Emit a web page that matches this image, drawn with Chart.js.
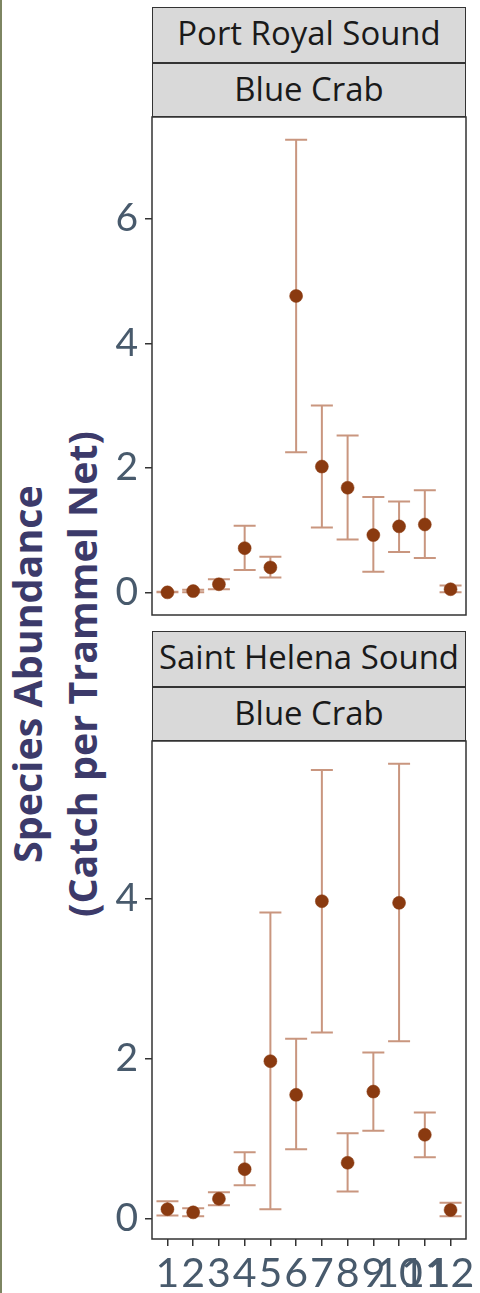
<!DOCTYPE html>
<html>
<head>
<meta charset="utf-8">
<script src="https://cdn.jsdelivr.net/npm/chart.js@4/dist/chart.umd.min.js"></script>
<style>
  html, body { margin: 0; padding: 0; background: #ffffff; }
  #page { position: relative; width: 480px; height: 1293px; background: #ffffff; overflow: hidden; }
  #edge { position: absolute; left: 0; top: 0; width: 2px; height: 1293px; background: #7d8562; }
  canvas { position: absolute; left: 0; }
  .strip { position: absolute; left: 152px; width: 314px; box-sizing: border-box;
           border: 1.5px solid #333333; background: #d9d9d9; }
  .strip div { box-sizing: border-box; text-align: center; font-family: 'Open Sans', sans-serif;
               font-size: 30px; color: #1a1a1a; white-space: nowrap; }
  .strip div + div { border-top: 2px solid #333333; }
  #ytitle { position: absolute; width: 520px; height: 110px; left: -205px; top: 619px;
            transform: rotate(-90deg); transform-origin: 50% 50%;
            font-family: 'Open Sans', sans-serif; font-weight: bold; font-size: 36px;
            color: #3c3a6a; text-align: center; line-height: 55px; white-space: nowrap; }
</style>
</head>
<body>
<div id="page">
  <div id="edge"></div>
  <div class="strip" style="top:7px;height:110px;">
    <div class="lab" style="height:54px;line-height:50px;">Port Royal Sound</div>
    <div class="lab" style="height:54px;line-height:50px;">Blue Crab</div>
  </div>
  <div class="strip" style="top:631px;height:110px;">
    <div class="lab" style="height:54px;line-height:50px;">Saint Helena Sound</div>
    <div class="lab" style="height:54px;line-height:50px;">Blue Crab</div>
  </div>
  <div id="ytitle"><div>Species Abundance</div><div>(Catch per Trammel Net)</div></div>
  <canvas id="top" width="480" height="540" style="top:100px;width:480px;height:540px;"></canvas>
  <canvas id="bottom" width="480" height="568" style="top:725px;width:480px;height:568px;"></canvas>
</div>
<script>
// Months sampled
const months = ['1', '2', '3', '4', '5', '6', '7', '8', '9', '10', '11', '12'];

// Port Royal Sound, blue crab: mean catch per trammel net and interval bounds
const prsMean = [0.00, 0.02, 0.13, 0.71, 0.40, 4.76, 2.02, 1.68, 0.92, 1.06, 1.09, 0.05];
const prsLow  = [0.00, 0.00, 0.05, 0.36, 0.24, 2.25, 1.04, 0.85, 0.33, 0.65, 0.55, 0.00];
const prsHigh = [0.01, 0.04, 0.21, 1.07, 0.57, 7.27, 3.00, 2.52, 1.53, 1.46, 1.64, 0.11];

// Saint Helena Sound, blue crab
const shsMean = [0.12, 0.08, 0.25, 0.62, 1.97, 1.55, 3.97, 0.70, 1.59, 3.95, 1.05, 0.11];
const shsLow  = [0.04, 0.03, 0.17, 0.42, 0.12, 0.87, 2.33, 0.34, 1.10, 2.22, 0.77, 0.03];
const shsHigh = [0.22, 0.13, 0.33, 0.83, 3.83, 2.25, 5.61, 1.07, 2.08, 5.69, 1.33, 0.20];

// Axis tick values
const prsTicks = [0, 2, 4, 6];
const shsTicks = [0, 2, 4];

const POINT_COLOR = '#8a3a10';
const BAR_COLOR = '#c9967f';
const TICK_COLOR = '#485a6c';
const FRAME_COLOR = '#333333';

// Size a text element's font so its rendered width hits a given width
function fitWidth(el, text, weight, family, width) {
  const c = document.createElement('canvas').getContext('2d');
  c.font = `${weight} 100px ${family}`;
  const size = 100 * width / c.measureText(text).width;
  el.style.fontSize = size.toFixed(2) + 'px';
  return size;
}
const labs = document.querySelectorAll('.strip .lab');
const stripSize = fitWidth(labs[2], 'Saint Helena Sound', 'normal', "'Open Sans'", 300);
labs.forEach(el => el.style.fontSize = stripSize.toFixed(2) + 'px');
const titleLines = document.querySelectorAll('#ytitle div');
const titleSize = fitWidth(titleLines[1], '(Catch per Trammel Net)', 'bold', "'Open Sans'", 486);
titleLines.forEach(el => el.style.fontSize = titleSize.toFixed(2) + 'px');

// Vertical error bars with caps, drawn under the points
const errorBars = {
  id: 'errorBars',
  beforeDatasetsDraw(chart) {
    const { ctx, scales } = chart;
    const ds = chart.data.datasets[0];
    ctx.save();
    ctx.strokeStyle = BAR_COLOR;
    ctx.lineWidth = 2;
    ds.data.forEach(d => {
      const x = scales.x.getPixelForValue(d.x);
      const yl = scales.y.getPixelForValue(d.lo);
      const yh = scales.y.getPixelForValue(d.hi);
      const half = 11;
      ctx.beginPath();
      ctx.moveTo(x, yl); ctx.lineTo(x, yh);
      ctx.moveTo(x - half, yl); ctx.lineTo(x + half, yl);
      ctx.moveTo(x - half, yh); ctx.lineTo(x + half, yh);
      ctx.stroke();
    });
    ctx.restore();
  }
};

// Panel frame
const panelFrame = {
  id: 'panelFrame',
  afterDraw(chart) {
    const { ctx, chartArea: a } = chart;
    ctx.save();
    ctx.strokeStyle = FRAME_COLOR;
    ctx.lineWidth = 1.5;
    ctx.strokeRect(a.left, a.top, a.right - a.left, a.bottom - a.top);
    ctx.restore();
  }
};

function expandedRange(lo, hi) {
  const min = Math.min(...lo), max = Math.max(...hi);
  const pad = (max - min) * 0.05;
  return [min - pad, max + pad];
}

function makeChart(id, mean, lo, hi, yTicks, showX, padding) {
  const [ymin, ymax] = expandedRange(lo, hi);
  const data = mean.map((m, i) => ({ x: i + 1, y: m, lo: lo[i], hi: hi[i] }));
  return new Chart(document.getElementById(id), {
    type: 'scatter',
    data: {
      datasets: [{
        data,
        pointRadius: 6.5,
        pointHoverRadius: 6.5,
        pointBackgroundColor: POINT_COLOR,
        pointBorderColor: POINT_COLOR,
        pointBorderWidth: 0.5
      }]
    },
    plugins: [errorBars, panelFrame],
    options: {
      responsive: false,
      animation: false,
      events: [],
      layout: { padding },
      plugins: { legend: { display: false }, tooltip: { enabled: false } },
      scales: {
        x: {
          type: 'linear',
          min: 0.4,
          max: 12.6,
          display: showX,
          afterBuildTicks(scale) { scale.ticks = months.map((m, i) => ({ value: i + 1 })); },
          afterFit(scale) {
            scale.height = showX ? 54 : 0;
            scale.paddingLeft = 0; scale.paddingRight = 0;
          },
          ticks: {
            autoSkip: false,
            maxRotation: 0,
            padding: 3,
            color: TICK_COLOR,
            font: { family: 'Lato', size: 41 },
            callback: (v) => months[v - 1]
          },
          grid: { drawOnChartArea: false, drawTicks: true, tickLength: 7, color: FRAME_COLOR, lineWidth: 1.5 },
          border: { display: false }
        },
        y: {
          type: 'linear',
          min: ymin,
          max: ymax,
          afterBuildTicks(scale) { scale.ticks = yTicks.map(v => ({ value: v })); },
          afterFit(scale) {
            scale.width = 152;
            scale.paddingTop = 0; scale.paddingBottom = 0;
          },
          ticks: {
            padding: 7,
            color: TICK_COLOR,
            font: { family: 'Lato', size: 39 }
          },
          grid: { drawOnChartArea: false, drawTicks: true, tickLength: 7, color: FRAME_COLOR, lineWidth: 1.5 },
          border: { display: false }
        }
      }
    }
  });
}

makeChart('top', prsMean, prsLow, prsHigh, prsTicks, false, { top: 17, right: 14, bottom: 25, left: 0 });
makeChart('bottom', shsMean, shsLow, shsHigh, shsTicks, true, { top: 16, right: 14, bottom: 0, left: 0 });
</script>
</body>
</html>
